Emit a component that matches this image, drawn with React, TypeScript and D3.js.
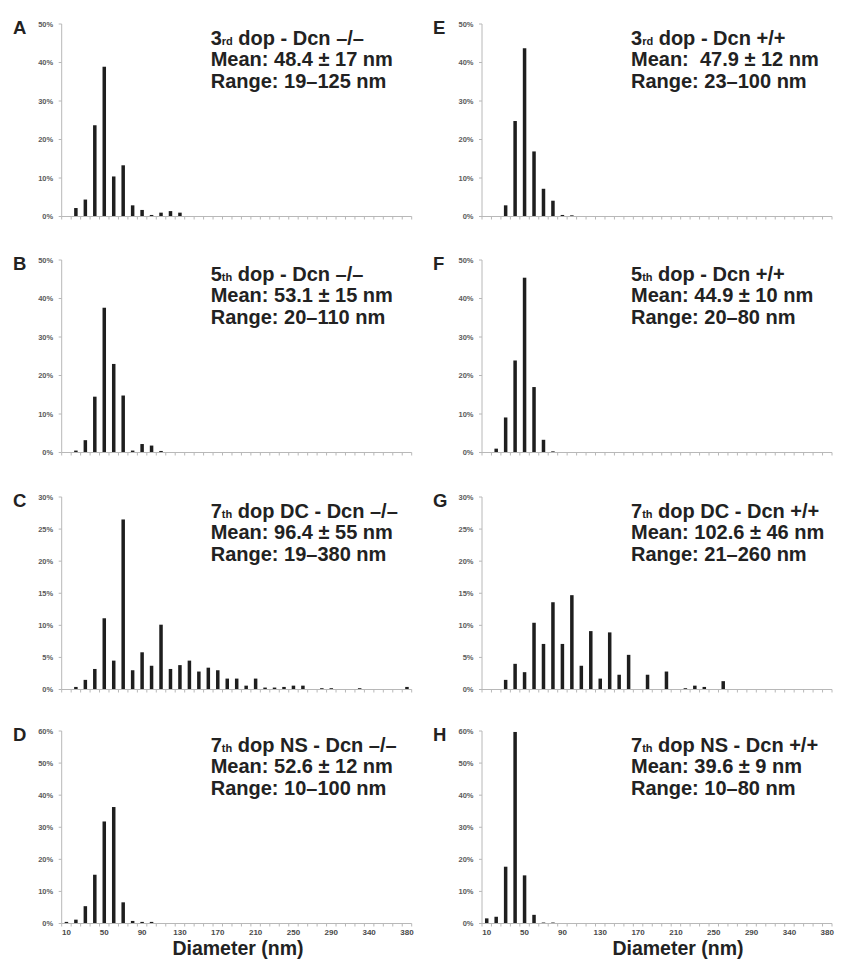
import React, { useEffect, useRef } from 'react'
import * as d3 from 'd3'

// diameter bins (nm) -- 320 is absent from the original axis
const diameters = [
  10, 20, 30, 40, 50, 60, 70, 80, 90, 100, 110, 120, 130, 140, 150, 160, 170, 180, 190, 200,
  210, 220, 230, 240, 250, 260, 270, 280, 290, 300, 310, 330, 340, 350, 360, 370, 380
]
const labeledDiameters = [10, 50, 90, 130, 170, 210, 250, 290, 340, 380]

// [diameter, percent] for each panel
const panelA = [[20, 2.2], [30, 4.4], [40, 23.7], [50, 38.9], [60, 10.4], [70, 13.3], [80, 2.9], [90, 1.7], [100, 0.4], [110, 1.0], [120, 1.4], [130, 1.0]]
const panelB = [[20, 0.5], [30, 3.2], [40, 14.5], [50, 37.6], [60, 23.0], [70, 14.8], [80, 0.5], [90, 2.2], [100, 1.8], [110, 0.4]]
const panelC = [
  [20, 0.4], [30, 1.5], [40, 3.2], [50, 11.1], [60, 4.5], [70, 26.5], [80, 3.0], [90, 5.8], [100, 3.7], [110, 10.1],
  [120, 3.2], [130, 3.8], [140, 4.5], [150, 2.8], [160, 3.4], [170, 3.0], [180, 1.7], [190, 1.7], [200, 0.6], [210, 1.7],
  [220, 0.3], [230, 0.3], [240, 0.4], [250, 0.6], [260, 0.6], [280, 0.2], [290, 0.2], [330, 0.2], [380, 0.4]
]
const panelD = [[10, 0.5], [20, 1.2], [30, 5.4], [40, 15.2], [50, 31.8], [60, 36.3], [70, 6.6], [80, 0.8], [90, 0.5], [100, 0.5]]
const panelE = [[30, 2.9], [40, 24.8], [50, 43.7], [60, 16.9], [70, 7.2], [80, 4.1], [90, 0.4], [100, 0.3]]
const panelF = [[20, 1.0], [30, 9.1], [40, 23.9], [50, 45.4], [60, 17.0], [70, 3.3], [80, 0.3]]
const panelG = [
  [30, 1.5], [40, 4.0], [50, 2.7], [60, 10.4], [70, 7.1], [80, 13.6], [90, 7.1], [100, 14.7], [110, 3.7], [120, 9.1],
  [130, 1.7], [140, 8.9], [150, 2.3], [160, 5.4], [180, 2.3], [200, 2.8], [220, 0.2], [230, 0.6], [240, 0.4], [260, 1.3]
]
const panelH = [[10, 1.6], [20, 2.1], [30, 17.7], [40, 59.7], [50, 15.0], [60, 2.7], [70, 0.3], [80, 0.3]]

const panels = [
  { letter: 'A', col: 0, row: 0, num: '3', ord: 'rd', head: ' dop - Dcn \u2013/\u2013', mean: 'Mean: 48.4 \u00b1 17 nm', range: 'Range: 19\u2013125 nm', yMax: 50, yStep: 10, data: panelA },
  { letter: 'B', col: 0, row: 1, num: '5', ord: 'th', head: ' dop - Dcn \u2013/\u2013', mean: 'Mean: 53.1 \u00b1 15 nm', range: 'Range: 20\u2013110 nm', yMax: 50, yStep: 10, data: panelB },
  { letter: 'C', col: 0, row: 2, num: '7', ord: 'th', head: ' dop DC - Dcn \u2013/\u2013', mean: 'Mean: 96.4 \u00b1 55 nm', range: 'Range: 19\u2013380 nm', yMax: 30, yStep: 5, data: panelC },
  { letter: 'D', col: 0, row: 3, num: '7', ord: 'th', head: ' dop NS - Dcn \u2013/\u2013', mean: 'Mean: 52.6 \u00b1 12 nm', range: 'Range: 10\u2013100 nm', yMax: 60, yStep: 10, data: panelD },
  { letter: 'E', col: 1, row: 0, num: '3', ord: 'rd', head: ' dop - Dcn +/+', mean: 'Mean:  47.9 \u00b1 12 nm', range: 'Range: 23\u2013100 nm', yMax: 50, yStep: 10, data: panelE },
  { letter: 'F', col: 1, row: 1, num: '5', ord: 'th', head: ' dop - Dcn +/+', mean: 'Mean: 44.9 \u00b1 10 nm', range: 'Range: 20\u201380 nm', yMax: 50, yStep: 10, data: panelF },
  { letter: 'G', col: 1, row: 2, num: '7', ord: 'th', head: ' dop DC - Dcn +/+', mean: 'Mean: 102.6 \u00b1 46 nm', range: 'Range: 21\u2013260 nm', yMax: 30, yStep: 5, data: panelG },
  { letter: 'H', col: 1, row: 3, num: '7', ord: 'th', head: ' dop NS - Dcn +/+', mean: 'Mean: 39.6 \u00b1 9 nm', range: 'Range: 10\u201380 nm', yMax: 60, yStep: 10, data: panelH }
]

const W = 850
const H = 971
const FONT = '"Liberation Sans", Arial, Helvetica, sans-serif'

export default function App() {
  const svgRef = useRef(null)

  useEffect(() => {
    const svg = d3.select(svgRef.current)
    svg.selectAll('*').remove()

    const colX = [61.7, 482]
    const rowTop = [24, 260, 497, 731]
    const plotW = 350
    const plotH = 192.5
    const axisColor = '#b8b8b8'

    panels.forEach(p => {
      const x0 = colX[p.col]
      const top = rowTop[p.row]
      const g = svg.append('g')

      const x = d3.scaleBand()
        .domain(diameters.map(String))
        .range([x0, x0 + plotW])
        .paddingInner(0.63)
        .paddingOuter(0.315)
      const y = d3.scaleLinear().domain([0, p.yMax]).range([top + plotH, top])
      const step = x.step()
      const base = top + plotH

      // bars
      g.selectAll('rect.bar')
        .data(p.data)
        .enter()
        .append('rect')
        .attr('class', 'bar')
        .attr('x', d => x(String(d[0])))
        .attr('width', x.bandwidth())
        .attr('y', d => y(d[1]))
        .attr('height', d => base - y(d[1]))
        .style('fill', '#1e1e1e')

      // y axis
      g.append('line')
        .attr('x1', x0).attr('x2', x0)
        .attr('y1', top).attr('y2', base)
        .style('stroke', axisColor)
      const yTicks = d3.range(0, p.yMax + 0.001, p.yStep)
      yTicks.forEach(t => {
        g.append('line')
          .attr('x1', x0 - 3).attr('x2', x0)
          .attr('y1', y(t)).attr('y2', y(t))
          .style('stroke', axisColor)
        g.append('text')
          .attr('x', x0 - 8.5)
          .attr('y', y(t))
          .attr('dy', '0.35em')
          .attr('text-anchor', 'end')
          .style('font-family', FONT)
          .style('font-size', '7.5px')
          .style('font-weight', 'bold')
          .style('fill', '#5a5a5a')
          .text(`${t}%`)
      })

      // x axis with tick marks between bins
      g.append('line')
        .attr('x1', x0).attr('x2', x0 + plotW)
        .attr('y1', base).attr('y2', base)
        .style('stroke', axisColor)
      d3.range(diameters.length + 1).forEach(i => {
        g.append('line')
          .attr('x1', x0 + i * step).attr('x2', x0 + i * step)
          .attr('y1', base).attr('y2', base + 3)
          .style('stroke', axisColor)
      })

      if (p.row === 3) {
        labeledDiameters.forEach(d => {
          g.append('text')
            .attr('x', x(String(d)) + x.bandwidth() / 2)
            .attr('y', base + 11.5)
            .attr('text-anchor', 'middle')
            .style('font-family', FONT)
            .style('font-size', '8px')
            .style('font-weight', 'bold')
            .style('fill', '#4a4a4a')
            .text(d)
        })
        g.append('text')
          .attr('x', p.col === 0 ? 238 : 678)
          .attr('y', base + 31)
          .attr('text-anchor', 'middle')
          .style('font-family', FONT)
          .style('font-size', '19.5px')
          .style('font-weight', 'bold')
          .style('fill', '#222')
          .text('Diameter (nm)')
      }

      // panel letter
      g.append('text')
        .attr('x', p.col === 0 ? 13 : 433)
        .attr('y', top + 9.5)
        .style('font-family', FONT)
        .style('font-size', '18.5px')
        .style('font-weight', 'bold')
        .style('fill', '#222')
        .text(p.letter)

      // annotation block
      const tx = x0 + 149
      const head = g.append('text')
        .attr('x', tx)
        .attr('y', top + 20.5)
        .style('font-family', FONT)
        .style('font-size', '20px')
        .style('font-weight', 'bold')
        .style('fill', '#222')
        .style('white-space', 'pre')
      head.append('tspan').text(p.num)
      head.append('tspan').style('font-size', '11px').text(p.ord)
      head.append('tspan').text(p.head)

      ;[p.mean, p.range].forEach((line, i) => {
        g.append('text')
          .attr('x', tx)
          .attr('y', top + 42 + i * 21.5)
          .style('font-family', FONT)
          .style('font-size', '20px')
          .style('font-weight', 'bold')
          .style('fill', '#222')
          .style('white-space', 'pre')
          .text(line)
      })
    })
  }, [])

  return (
    <svg
      ref={svgRef}
      width={W}
      height={H}
      style={{ position: 'absolute', left: 0, top: 0, background: '#fff' }}
    />
  )
}
